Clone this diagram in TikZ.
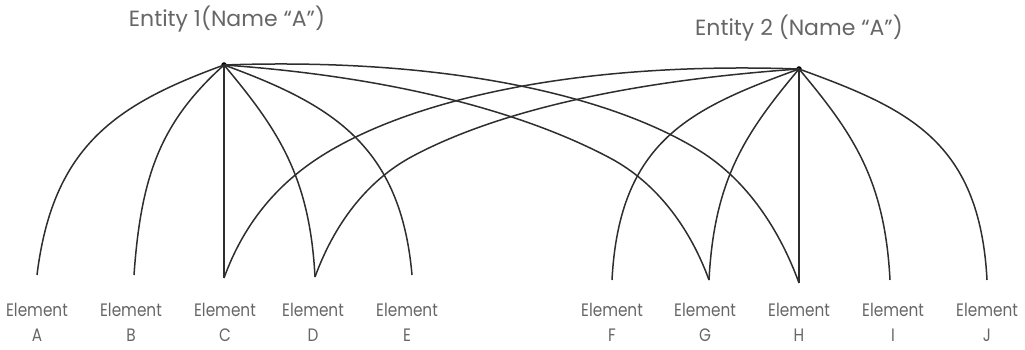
\documentclass[tikz,border=0pt]{standalone}
\usepackage{fontspec}
\setmainfont{Poppins}[FakeStretch=0.85]
\newfontfamily\entfont{Poppins}
\begin{document}
\begin{tikzpicture}[x=1pt,y=1pt,
  link/.style={line width=1.5pt,draw=black!82},
  entity/.style={circle,fill=black,inner sep=0pt,minimum size=5.5pt},
  elabel/.style={align=center,inner sep=0pt,anchor=south,text=black!60,font=\fontsize{18}{25}\selectfont},
  tlabel/.style={inner sep=0pt,anchor=base,text=black!60,font=\entfont\fontsize{22}{26}\selectfont}]
\useasboundingbox (0,0) rectangle (1025,350);
% entities
\node[entity] (e1) at (224,285) {};
\node[entity] (e2) at (799,281) {};
\node[tlabel] (t1) at (227,323) {Entity 1(Name “A”)};
\node[tlabel] (t2) at (799,314) {Entity 2 (Name “A”)};
% element ends
\coordinate (a) at (37,75);
\coordinate (b) at (134,75);
\coordinate (c) at (224,72);
\coordinate (d) at (315,73);
\coordinate (e) at (412,75);
\coordinate (f) at (612,70);
\coordinate (g) at (709,70);
\coordinate (h) at (799,67);
\coordinate (i) at (890,70);
\coordinate (j) at (987,70);
% bend points of the long connectors
\coordinate (mh) at (700,199);
\coordinate (mg) at (610,192);
\coordinate (mc) at (323,195);
\coordinate (md) at (413,194);
% element labels
\node[elabel] (la) at (37,8) {Element\\A};
\node[elabel] (lb) at (131,8) {Element\\B};
\node[elabel] (lc) at (225,8) {Element\\C};
\node[elabel] (ld) at (313,8) {Element\\D};
\node[elabel] (le) at (407,8) {Element\\E};
\node[elabel] (lf) at (612,8) {Element\\F};
\node[elabel] (lg) at (705,8) {Element\\G};
\node[elabel] (lh) at (799,8) {Element\\H};
\node[elabel] (li) at (893,8) {Element\\I};
\node[elabel] (lj) at (987,8) {Element\\J};
% entity 1 links
\draw[link] (e1.center) .. controls +(200:115) and +(83:130) .. (a);
\draw[link] (e1.center) .. controls +(222:85) and +(86:100) .. (b);
\draw[link] (e1.center) -- (c);
\draw[link] (e1.center) .. controls +(-50:85) and +(93:100) .. (d);
\draw[link] (e1.center) .. controls +(-20:115) and +(95:130) .. (e);
\draw[link] (e1.center) .. controls +(-4:180) and +(152:90) .. (mg)
            .. controls +(-28:54) and +(110:54) .. (g);
\draw[link] (e1.center) .. controls +(2:230) and +(148:100) .. (mh)
            .. controls +(-32:56) and +(110:56) .. (h);
% entity 2 links
\draw[link] (e2.center) .. controls +(178:230) and +(32:100) .. (mc)
            .. controls +(212:56) and +(70:56) .. (c);
\draw[link] (e2.center) .. controls +(184:180) and +(28:90) .. (md)
            .. controls +(208:54) and +(70:54) .. (d);
\draw[link] (e2.center) .. controls +(200:115) and +(87:140) .. (f);
\draw[link] (e2.center) .. controls +(230:85) and +(87:100) .. (g);
\draw[link] (e2.center) -- (h);
\draw[link] (e2.center) .. controls +(-50:85) and +(93:100) .. (i);
\draw[link] (e2.center) .. controls +(-20:115) and +(93:140) .. (j);
\end{tikzpicture}
\end{document}
